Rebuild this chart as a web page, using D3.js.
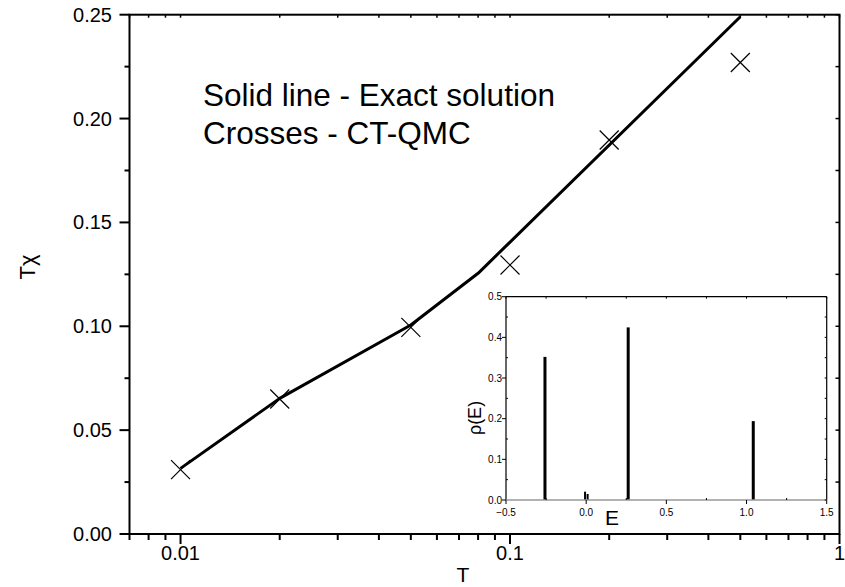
<!DOCTYPE html>
<html>
<head>
<meta charset="utf-8">
<script src="https://cdn.jsdelivr.net/npm/d3@7"></script>
<style>
body { margin: 0; background: #fff; }
text { font-family: "Liberation Sans", Arial, sans-serif; fill: #000; }
</style>
</head>
<body>
<div id="image"></div>
<script>
// exact solution (solid line) and CT-QMC (crosses)
var exactT = [0.01, 0.02, 0.05, 0.08, 0.5];
var exactY = [0.0316, 0.0653, 0.1006, 0.1255, 0.249];
var qmcT = [0.01, 0.02, 0.05, 0.1, 0.2, 0.5];
var qmcY = [0.031, 0.065, 0.0995, 0.1295, 0.1897, 0.227];
var xMajor = [0.01, 0.1, 1];
var xLabels = ["0.01", "0.1", "1"];
var yMajor = [0, 0.05, 0.1, 0.15, 0.2, 0.25];
// inset: spectral weight rho(E)
var peakE = [-0.257, -0.007, 0.009, 0.262, 1.042];
var peakRho = [0.352, 0.0205, 0.0148, 0.4245, 0.194];
var peakW = [3, 2, 2, 3, 3];
var insetXTicks = [-0.5, 0, 0.5, 1, 1.5];
var insetYTicks = [0, 0.1, 0.2, 0.3, 0.4, 0.5];

var svg = d3.select("#image").append("svg").attr("width", 845).attr("height", 587);

var x = d3.scaleLog().domain([0.007, 1]).range([129.5, 839.5]);
var y = d3.scaleLinear().domain([0, 0.25]).range([534, 14.7]);

// minor ticks on the log axis
var xMinor = [];
[0.001, 0.01, 0.1].forEach(function(d) {
    for (var k = 2; k <= 9; k++) {
        var v = d * k;
        if (v >= 0.007 && v < 1) xMinor.push(v);
    }
});
var yMinor = d3.range(0.025, 0.25, 0.05);

var g = svg.append("g");

// frame
g.append("rect")
    .attr("x", x.range()[0]).attr("y", y.range()[1])
    .attr("width", x.range()[1] - x.range()[0])
    .attr("height", y.range()[0] - y.range()[1])
    .attr("fill", "none").attr("stroke", "#000").attr("stroke-width", 2);

// bottom axis ticks (outward)
g.selectAll(".xmaj").data(xMajor).enter().append("line")
    .attr("x1", d => x(d)).attr("x2", d => x(d))
    .attr("y1", y(0)).attr("y2", y(0) + 10)
    .attr("stroke", "#000").attr("stroke-width", 2);
g.selectAll(".xmin").data(xMinor).enter().append("line")
    .attr("x1", d => x(d)).attr("x2", d => x(d))
    .attr("y1", y(0)).attr("y2", y(0) + 6)
    .attr("stroke", "#000").attr("stroke-width", 2);
// top axis ticks (inward)
g.selectAll(".xtop").data(xMajor.concat(xMinor)).enter().append("line")
    .attr("x1", d => x(d)).attr("x2", d => x(d))
    .attr("y1", y(0.25)).attr("y2", y(0.25) + 3)
    .attr("stroke", "#000").attr("stroke-width", 1.5);
g.selectAll(".xlab").data(xMajor).enter().append("text")
    .attr("x", d => x(d)).attr("y", 560)
    .attr("text-anchor", "middle").attr("font-size", 20)
    .text((d, i) => xLabels[i]);

// left axis ticks (outward)
g.selectAll(".ymaj").data(yMajor).enter().append("line")
    .attr("x1", x(0.007) - 10).attr("x2", x(0.007))
    .attr("y1", d => y(d)).attr("y2", d => y(d))
    .attr("stroke", "#000").attr("stroke-width", 2);
g.selectAll(".ymin").data(yMinor).enter().append("line")
    .attr("x1", x(0.007) - 5).attr("x2", x(0.007))
    .attr("y1", d => y(d)).attr("y2", d => y(d))
    .attr("stroke", "#000").attr("stroke-width", 2);
// right axis ticks (inward)
g.selectAll(".yright").data(yMajor.concat(yMinor)).enter().append("line")
    .attr("x1", x(1) - 4).attr("x2", x(1))
    .attr("y1", d => y(d)).attr("y2", d => y(d))
    .attr("stroke", "#000").attr("stroke-width", 1.5);
g.selectAll(".ylab").data(yMajor).enter().append("text")
    .attr("x", 112).attr("y", d => y(d) + 7)
    .attr("text-anchor", "end").attr("font-size", 20)
    .text(d => d3.format(".2f")(d));

// axis titles
svg.append("text").attr("x", 463).attr("y", 582)
    .attr("text-anchor", "middle").attr("font-size", 21).text("T");
svg.append("text")
    .attr("transform", "translate(35,267) rotate(-90)")
    .attr("text-anchor", "middle").attr("font-size", 22).text("T\u03c7");

// exact solution line
var line = d3.line().x(d => x(d[0])).y(d => y(d[1]));
g.append("path")
    .datum(d3.zip(exactT, exactY))
    .attr("d", line)
    .attr("fill", "none").attr("stroke", "#000").attr("stroke-width", 3)
    .attr("stroke-linejoin", "round");

// QMC crosses
var cs = 9.5;
g.selectAll(".cross").data(d3.zip(qmcT, qmcY)).enter().append("path")
    .attr("d", function(d) {
        var cx = x(d[0]), cy = y(d[1]);
        return "M" + (cx - cs) + " " + (cy - cs) + "L" + (cx + cs) + " " + (cy + cs) +
               "M" + (cx - cs) + " " + (cy + cs) + "L" + (cx + cs) + " " + (cy - cs);
    })
    .attr("fill", "none").attr("stroke", "#000").attr("stroke-width", 1.2);

// annotation
svg.append("text").attr("x", 203).attr("y", 106).attr("font-size", 31.5)
    .text("Solid line - Exact solution");
svg.append("text").attr("x", 203).attr("y", 144).attr("font-size", 31.5)
    .text("Crosses - CT-QMC");

// ---- inset ----
var ix = d3.scaleLinear().domain([-0.5, 1.5]).range([506, 826.7]);
var iy = d3.scaleLinear().domain([0, 0.5]).range([500, 296.7]);
var ig = svg.append("g");
var ixMinor = d3.range(-0.25, 1.5, 0.5);
var iyMinor = d3.range(0.05, 0.5, 0.1);

ig.append("rect")
    .attr("x", ix(-0.5)).attr("y", iy(0.5))
    .attr("width", ix(1.5) - ix(-0.5)).attr("height", iy(0) - iy(0.5))
    .attr("fill", "#fff").attr("stroke", "none");

ig.selectAll(".peak").data(d3.zip(peakE, peakRho, peakW)).enter().append("rect")
    .attr("x", d => ix(d[0]) - d[2] / 2).attr("width", d => d[2])
    .attr("y", d => iy(d[1])).attr("height", d => iy(0) - iy(d[1]))
    .attr("fill", "#000");

ig.append("line").attr("x1", ix(-0.5)).attr("x2", ix(1.5))
    .attr("y1", iy(0.5)).attr("y2", iy(0.5)).attr("stroke", "#000").attr("stroke-width", 1.2);
ig.append("line").attr("x1", ix(1.5)).attr("x2", ix(1.5))
    .attr("y1", iy(0.5)).attr("y2", iy(0)).attr("stroke", "#000").attr("stroke-width", 1.2);
ig.append("line").attr("x1", ix(-0.5)).attr("x2", ix(-0.5))
    .attr("y1", iy(0.5)).attr("y2", iy(0)).attr("stroke", "#000").attr("stroke-width", 1.2);
ig.append("line").attr("x1", ix(-0.5)).attr("x2", ix(1.5))
    .attr("y1", iy(0)).attr("y2", iy(0)).attr("stroke", "#999").attr("stroke-width", 1.5);

// inset ticks
ig.selectAll(".ixt").data(insetXTicks).enter().append("line")
    .attr("x1", d => ix(d)).attr("x2", d => ix(d))
    .attr("y1", iy(0)).attr("y2", iy(0) + 4).attr("stroke", "#000");
ig.selectAll(".ixm").data(ixMinor).enter().append("line")
    .attr("x1", d => ix(d)).attr("x2", d => ix(d))
    .attr("y1", iy(0)).attr("y2", iy(0) - 2).attr("stroke", "#000");
ig.selectAll(".ixtop").data(insetXTicks.concat(ixMinor)).enter().append("line")
    .attr("x1", d => ix(d)).attr("x2", d => ix(d))
    .attr("y1", iy(0.5)).attr("y2", iy(0.5) + 2).attr("stroke", "#000");
ig.selectAll(".iyt").data(insetYTicks).enter().append("line")
    .attr("x1", ix(-0.5) - 4).attr("x2", ix(-0.5))
    .attr("y1", d => iy(d)).attr("y2", d => iy(d)).attr("stroke", "#000");
ig.selectAll(".iym").data(iyMinor).enter().append("line")
    .attr("x1", ix(-0.5)).attr("x2", ix(-0.5) + 2)
    .attr("y1", d => iy(d)).attr("y2", d => iy(d)).attr("stroke", "#000");
ig.selectAll(".iyr").data(insetYTicks.concat(iyMinor)).enter().append("line")
    .attr("x1", ix(1.5) - 2).attr("x2", ix(1.5))
    .attr("y1", d => iy(d)).attr("y2", d => iy(d)).attr("stroke", "#000");

ig.selectAll(".ixl").data(insetXTicks).enter().append("text")
    .attr("x", d => ix(d)).attr("y", 516)
    .attr("text-anchor", "middle").attr("font-size", 10)
    .text(d => d3.format(".1f")(d));
ig.selectAll(".iyl").data(insetYTicks).enter().append("text")
    .attr("x", 502).attr("y", d => iy(d) + 3.5)
    .attr("text-anchor", "end").attr("font-size", 10)
    .text(d => d3.format(".1f")(d));

ig.append("text").attr("x", 612).attr("y", 525)
    .attr("text-anchor", "middle").attr("font-size", 21).text("E");
ig.append("text")
    .attr("transform", "translate(481,418) rotate(-90)")
    .attr("text-anchor", "middle").attr("font-size", 18).text("\u03c1(E)");
</script>
</body>
</html>
